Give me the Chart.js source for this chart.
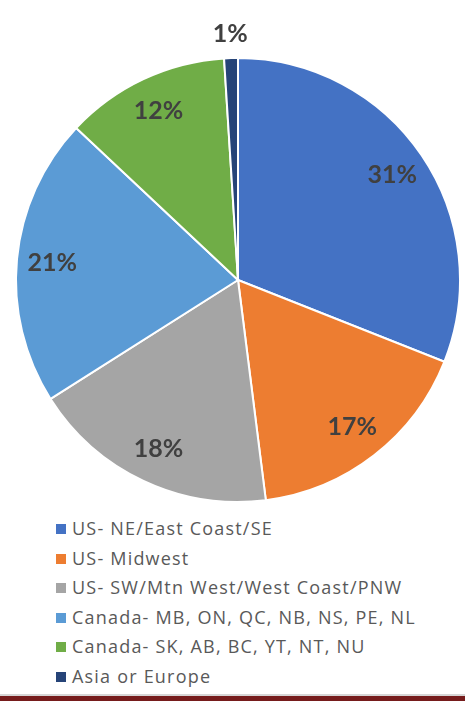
<!DOCTYPE html>
<html>
<head>
<meta charset="utf-8">
<script src="https://cdn.jsdelivr.net/npm/chart.js@4.4.1/dist/chart.umd.min.js"></script>
<style>
  html, body { margin: 0; padding: 0; background: #fff; }
  body { width: 465px; height: 701px; position: relative; overflow: hidden; font-family: "Open Sans", Lato, sans-serif; }
  #wrap { position: absolute; left: 0; top: 0; width: 465px; height: 515px; }
  #legend { position: absolute; left: 56px; top: 516px; margin: 0; padding: 0; list-style: none; }
  #legend li { height: 29.5px; line-height: 24px; font-size: 18px; letter-spacing: 1.2px; color: #595959; white-space: nowrap; }
  #legend span { display: inline-block; width: 10px; height: 10px; margin-right: 6px; vertical-align: 1px; }
  .rule { position: absolute; left: 0; top: 694px; width: 465px; height: 2px; background: #d6d6d6; }
  .band { position: absolute; left: 0; top: 696px; width: 465px; height: 5px; background: #761c1c; }
</style>
</head>
<body>
<div id="wrap"><canvas id="pie"></canvas></div>
<ul id="legend"></ul>
<div class="rule"></div>
<div class="band"></div>
<script>
const categories = [
  'US- NE/East Coast/SE',
  'US- Midwest',
  'US- SW/Mtn West/West Coast/PNW',
  'Canada- MB, ON, QC, NB, NS, PE, NL',
  'Canada- SK, AB, BC, YT, NT, NU',
  'Asia or Europe'
];
const shares = [31, 17, 18, 21, 12, 1];
const colors = ['#4472C4', '#ED7D31', '#A5A5A5', '#5B9BD5', '#70AD47', '#264478'];

// percent labels, inside except the tiny slice which goes outside
const pctLabels = {
  id: 'pctLabels',
  afterDatasetsDraw(chart) {
    let ctx = chart.ctx;
    let meta = chart.getDatasetMeta(0);
    let total = shares.reduce((a, b) => a + b, 0);
    ctx.save();
    ctx.font = 'bold 25px Lato';
    ctx.fillStyle = '#404040';
    ctx.textAlign = 'center';
    ctx.textBaseline = 'middle';
    meta.data.forEach((arc, i) => {
      let p = arc.getProps(['x', 'y', 'startAngle', 'endAngle', 'outerRadius'], true);
      let mid = (p.startAngle + p.endAngle) / 2;
      let pct = shares[i] / total * 100;
      let r = pct < 3 ? p.outerRadius + 24 : p.outerRadius * 0.84;
      ctx.fillText(Math.round(pct) + '%', p.x + Math.cos(mid) * r, p.y + Math.sin(mid) * r);
    });
    ctx.restore();
  }
};

new Chart(document.getElementById('pie'), {
  type: 'pie',
  data: {
    labels: categories,
    datasets: [{
      data: shares,
      backgroundColor: colors,
      borderColor: '#ffffff',
      borderWidth: 2
    }]
  },
  options: {
    responsive: true,
    maintainAspectRatio: false,
    animation: false,
    layout: { padding: { left: 15, right: 4, top: 57, bottom: 12 } },
    plugins: {
      legend: { display: false },
      tooltip: { enabled: false }
    }
  },
  plugins: [pctLabels]
});

let legend = document.getElementById('legend');
categories.forEach((c, i) => {
  let li = document.createElement('li');
  li.innerHTML = '<span style="background:' + colors[i] + '"></span>' + c;
  legend.appendChild(li);
});
</script>
</body>
</html>
